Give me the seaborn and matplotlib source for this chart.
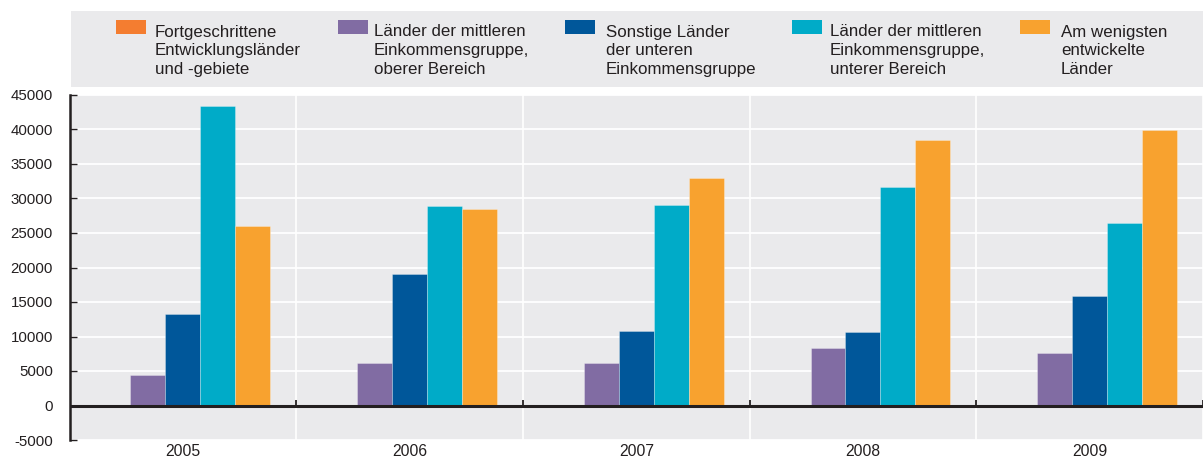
import numpy as np
import pandas as pd
import matplotlib
matplotlib.use('Agg')
import matplotlib.pyplot as plt
from matplotlib import font_manager
from matplotlib.patches import Rectangle
import seaborn as sns

jahre = ['2005', '2006', '2007', '2008', '2009']
gruppen = ['Fortgeschrittene\nEntwicklungsländer\nund -gebiete',
           'Länder der mittleren\nEinkommensgruppe,\noberer Bereich',
           'Sonstige Länder\nder unteren\nEinkommensgruppe',
           'Länder der mittleren\nEinkommensgruppe,\nunterer Bereich',
           'Am wenigsten\nentwickelte\nLänder']
fortgeschrittene = [0, 0, 0, 0, 0]
mittlere_oben = [4400, 6100, 6100, 8400, 7600]
untere_sonstige = [13300, 19100, 10850, 10600, 15900]
mittlere_unten = [43400, 28850, 29000, 31700, 26400]
am_wenigsten = [25950, 28450, 32950, 38550, 39900]
farben = ['#F47D30', '#816CA3', '#00579A', '#00ABC8', '#F8A22F']

werte = [fortgeschrittene, mittlere_oben, untere_sonstige, mittlere_unten, am_wenigsten]
rows = []
for g, serie in zip(gruppen, werte):
    for j, v in zip(jahre, serie):
        rows.append({'Jahr': j, 'Gruppe': g, 'Wert': v})
df = pd.DataFrame(rows)

bg = '#EAEAEC'
dunkel = '#231F20'
sns.set_theme(style='darkgrid', rc={'axes.facecolor': bg, 'grid.color': 'white'})
installiert = {f.name for f in font_manager.fontManager.ttflist}
schmal = 'Liberation Sans Narrow' if 'Liberation Sans Narrow' in installiert else 'Liberation Sans'
plt.rcParams['font.family'] = ['Liberation Sans', 'DejaVu Sans']
plt.rcParams['axes.unicode_minus'] = False

W, H = 1203, 462
fig = plt.figure(figsize=(W / 100, H / 100), dpi=100)
fig.patch.set_facecolor('white')
ax = fig.add_axes([69.5 / W, 1 - 440 / H, (W - 69.5) / W, 345 / H])

sns.barplot(data=df, x='Jahr', y='Wert', hue='Gruppe', hue_order=gruppen,
            palette=farben, width=0.77, saturation=1, legend=False,
            edgecolor=(1, 1, 1, 0.4), linewidth=0.5, ax=ax)

ax.set_xlim(-0.5, len(jahre) - 0.5)
ax.set_ylim(-5000, 45000)
ax.set_yticks(np.arange(-5000, 45001, 5000))
ax.grid(False)
ax.yaxis.grid(True, color='white', lw=1.3)
ax.set_axisbelow(True)
ax.set_xlabel('')
ax.set_ylabel('')

grenzen = np.arange(-0.5, len(jahre))
for b in grenzen[1:]:
    ax.axvline(b, color='white', lw=1.2, zorder=0.5)
ax.axhline(0, color=dunkel, lw=2.2, zorder=3)
ax.vlines(grenzen, 0, 750, color=dunkel, lw=1.3, zorder=3)

for s in ['top', 'right', 'bottom']:
    ax.spines[s].set_visible(False)
ax.spines['left'].set_color(dunkel)
ax.spines['left'].set_linewidth(1.8)
ax.tick_params(axis='y', direction='in', length=5, width=1, color=dunkel, left=True,
               pad=12, labelsize=10.8, labelcolor=dunkel)
ax.tick_params(axis='x', length=0, pad=3, labelsize=11.3, labelcolor=dunkel)
for lbl in ax.get_xticklabels():
    lbl.set_family([schmal, 'DejaVu Sans'])

# legend band
fig.patches.append(Rectangle((71 / W, 1 - 87 / H), (W - 71) / W, 76 / H,
                             transform=fig.transFigure, facecolor=bg, edgecolor='none', zorder=0))
patch_x = [116, 338, 565, 792, 1020]
text_x = [155, 374, 606, 830, 1061]
for g, c, px, tx in zip(gruppen, farben, patch_x, text_x):
    fig.patches.append(Rectangle((px / W, 1 - 34 / H), 29.5 / W, 14 / H,
                                 transform=fig.transFigure, facecolor=c, edgecolor='none'))
    fig.text(tx / W, 1 - 24.5 / H, g, ha='left', va='top', fontsize=12.2,
             color=dunkel, linespacing=1.33, family=[schmal, 'DejaVu Sans'])

fig.savefig('out.png', dpi=100)
